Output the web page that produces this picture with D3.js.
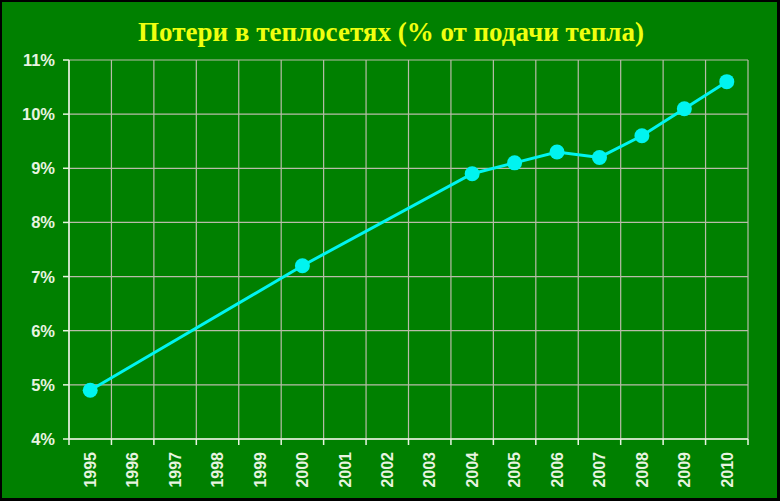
<!DOCTYPE html>
<html><head><meta charset="utf-8">
<script src="https://cdn.jsdelivr.net/npm/d3@7"></script>
<style>html,body{margin:0;padding:0;background:#000;}svg{display:block;}</style>
</head><body>
<script>
const years = ["1995","1996","1997","1998","1999","2000","2001","2002","2003","2004","2005","2006","2007","2008","2009","2010"];
const pointYears = ["1995","2000","2004","2005","2006","2007","2008","2009","2010"];
const lossValues = [4.9, 7.2, 8.9, 9.1, 9.3, 9.2, 9.6, 10.1, 10.6];
const yTicks = [4,5,6,7,8,9,10,11];
const titleText = "Потери в теплосетях (% от подачи тепла)";

const W = 780, H = 501;
const m = {left:69, right:32, top:60, bottom:62};
const svg = d3.select("body").append("svg").attr("width",W).attr("height",H);
svg.append("rect").attr("x",0).attr("y",0).attr("width",W).attr("height",H).attr("fill","#000");
svg.append("rect").attr("x",2).attr("y",2).attr("width",W-5).attr("height",H-5).attr("fill","#008000");

const x = d3.scaleBand().domain(years).range([m.left, W-m.right]);
const y = d3.scaleLinear().domain([4,11]).range([H-m.bottom, m.top]);

svg.append("text").attr("x",391).attr("y",41).attr("text-anchor","middle")
  .attr("font-family","'Liberation Serif', 'Times New Roman', serif").attr("font-weight","bold")
  .attr("font-size",27).attr("fill","#f0ff10").text(titleText);

const g = svg.append("g");
const gridColor = "#b8bca8";
g.selectAll("line.h").data(yTicks).join("line").attr("class","h")
  .attr("x1",m.left).attr("x2",W-m.right).attr("y1",d=>y(d)).attr("y2",d=>y(d))
  .attr("stroke",gridColor).attr("stroke-width",1.2);
const bounds = years.map(d=>x(d)).concat([x(years[years.length-1])+x.bandwidth()]);
g.selectAll("line.v").data(bounds).join("line").attr("class","v")
  .attr("x1",d=>d).attr("x2",d=>d).attr("y1",m.top).attr("y2",H-m.bottom)
  .attr("stroke",gridColor).attr("stroke-width",1.2);

const axisColor = "#e8f4e0";
g.append("line").attr("x1",m.left).attr("x2",m.left).attr("y1",m.top).attr("y2",H-m.bottom).attr("stroke",axisColor).attr("stroke-width",1.5);
g.append("line").attr("x1",m.left).attr("x2",W-m.right).attr("y1",H-m.bottom).attr("y2",H-m.bottom).attr("stroke",axisColor).attr("stroke-width",1.5);
g.selectAll("line.yt").data(yTicks).join("line").attr("class","yt")
  .attr("x1",m.left-6).attr("x2",m.left).attr("y1",d=>y(d)).attr("y2",d=>y(d)).attr("stroke",axisColor).attr("stroke-width",1.5);
g.selectAll("line.xt").data(bounds).join("line").attr("class","xt")
  .attr("x1",d=>d).attr("x2",d=>d).attr("y1",H-m.bottom).attr("y2",H-m.bottom+6).attr("stroke",axisColor).attr("stroke-width",1.5);

const lblFont = "'Liberation Sans', Arial, sans-serif";
g.selectAll("text.yl").data(yTicks).join("text").attr("class","yl")
  .attr("x",55).attr("y",d=>y(d)).attr("dy","0.36em").attr("text-anchor","end")
  .attr("font-family",lblFont).attr("font-weight","bold").attr("font-size",16.5)
  .attr("fill",axisColor).text(d=>d+"%");
g.selectAll("text.xl").data(years).join("text").attr("class","xl")
  .attr("transform",d=>`translate(${x(d)+x.bandwidth()/2},${H-m.bottom+13}) rotate(-90)`)
  .attr("dy","0.36em").attr("text-anchor","end")
  .attr("font-family",lblFont).attr("font-weight","bold").attr("font-size",16)
  .attr("fill",axisColor).text(d=>d);

const pts = pointYears.map((yr,i)=>({yr, v:lossValues[i]}));
const line = d3.line().x(d=>x(d.yr)+x.bandwidth()/2).y(d=>y(d.v));
g.append("path").datum(pts).attr("d",line).attr("fill","none").attr("stroke","#00f4f0").attr("stroke-width",3);
g.selectAll("circle").data(pts).join("circle")
  .attr("cx",d=>x(d.yr)+x.bandwidth()/2).attr("cy",d=>y(d.v)).attr("r",7.5).attr("fill","#00f4f0");
</script>
</body></html>
